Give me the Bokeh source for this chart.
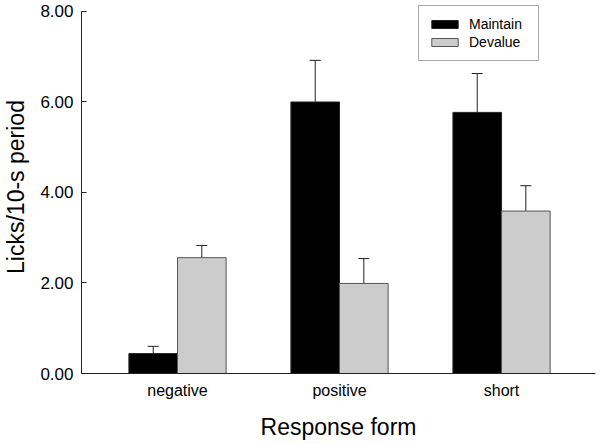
from bokeh.plotting import figure
from bokeh.models import (ColumnDataSource, Range1d, FixedTicker, Whisker, TeeHead,
                          Legend, LegendItem, NumeralTickFormatter)
from bokeh.embed import file_html
from bokeh.resources import INLINE

# ---- data ----
categories = ["negative", "positive", "short"]
positions = [1, 2, 3]
maintain = [0.44, 6.00, 5.77]
maintain_err = [0.16, 0.92, 0.86]
devalue = [2.56, 1.99, 3.59]
devalue_err = [0.27, 0.55, 0.56]
y_ticks = [0, 2, 4, 6, 8]

FONT = "Liberation Sans"
BAR_W = 0.3

m_x = [p - BAR_W / 2 for p in positions]
d_x = [p + BAR_W / 2 for p in positions]

src_m = ColumnDataSource(dict(x=m_x, top=maintain,
                              up=[t + e for t, e in zip(maintain, maintain_err)]))
src_d = ColumnDataSource(dict(x=d_x, top=devalue,
                              up=[t + e for t, e in zip(devalue, devalue_err)]))

p = figure(width=603, height=444, output_backend="svg", toolbar_location=None,
           x_range=Range1d(0.4074, 3.58), y_range=Range1d(0, 8.243),
           min_border_left=81, min_border_right=8, min_border_top=0,
           min_border_bottom=71)
p.outline_line_color = None
p.xgrid.grid_line_color = None
p.ygrid.grid_line_color = None
p.background_fill_color = "white"

r_m = p.vbar(x="x", top="top", bottom=0, width=BAR_W, source=src_m,
             fill_color="black", line_color="#222222", line_width=1)
r_d = p.vbar(x="x", top="top", bottom=0, width=BAR_W, source=src_d,
             fill_color="#cccccc", line_color="#555555", line_width=1)

for src in (src_m, src_d):
    w = Whisker(base="x", lower="top", upper="up", source=src, dimension="height",
                line_color="#222222", line_width=1,
                upper_head=TeeHead(size=11, line_color="#222222", line_width=1),
                lower_head=None)
    p.add_layout(w)

# axes
yax = p.yaxis[0]
yax.ticker = FixedTicker(ticks=y_ticks)
yax.formatter = NumeralTickFormatter(format="0.00")
yax.bounds = (0, 8)
yax.major_tick_in = 5
yax.major_tick_out = 0
yax.minor_tick_line_color = None
yax.major_label_standoff = 8
yax.major_label_text_font = FONT
yax.major_label_text_font_size = "17px"
yax.major_label_text_color = "black"
yax.axis_label = "Licks/10-s period"
yax.axis_label_text_font = FONT
yax.axis_label_text_font_size = "23px"
yax.axis_label_text_font_style = "normal"
yax.axis_label_text_color = "black"
yax.axis_label_standoff = 8
yax.axis_line_color = "#222222"
yax.major_tick_line_color = "#222222"

xax = p.xaxis[0]
xax.ticker = FixedTicker(ticks=positions)
xax.major_label_overrides = {pos: c for pos, c in zip(positions, categories)}
xax.major_tick_in = 0
xax.major_tick_out = 0
xax.minor_tick_line_color = None
xax.major_label_standoff = 8
xax.major_label_text_font = FONT
xax.major_label_text_font_size = "16px"
xax.major_label_text_color = "black"
xax.axis_label = "Response form"
xax.axis_label_text_font = FONT
xax.axis_label_text_font_size = "23px"
xax.axis_label_text_font_style = "normal"
xax.axis_label_text_color = "black"
xax.axis_label_standoff = 12
xax.axis_line_color = "#222222"

legend = Legend(items=[LegendItem(label="Maintain", renderers=[r_m]),
                       LegendItem(label="Devalue", renderers=[r_d])],
                location=(337, 312))
legend.glyph_width = 33
legend.glyph_height = 10
legend.label_height = 18
legend.label_width = 60
legend.spacing = 0
legend.padding = 9
legend.margin = 0
legend.label_standoff = 8
legend.label_text_font = FONT
legend.label_text_font_size = "14px"
legend.label_text_color = "black"
legend.border_line_color = "#555555"
legend.border_line_width = 1
legend.background_fill_alpha = 1
p.add_layout(legend)

open("out.html", "w").write(file_html(p, INLINE))
